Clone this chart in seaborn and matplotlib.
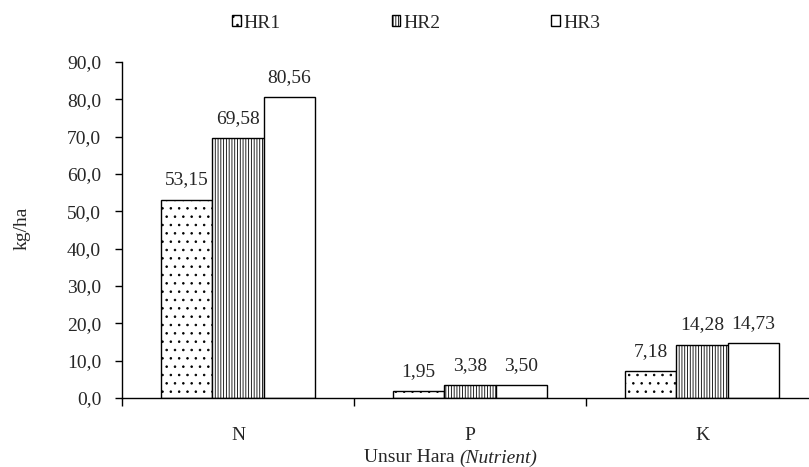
import pandas as pd
import numpy as np
import matplotlib.pyplot as plt
import seaborn as sns

# data
nutrients = ['N', 'P', 'K']
series = ['HR1', 'HR2', 'HR3']
hr1 = [53.15, 1.95, 7.18]
hr2 = [69.58, 3.38, 14.28]
hr3 = [80.56, 3.50, 14.73]
yticks = [0, 10, 20, 30, 40, 50, 60, 70, 80, 90]

df = pd.DataFrame({
    'Nutrient': nutrients * 3,
    'Series': [s for s in series for _ in nutrients],
    'Value': hr1 + hr2 + hr3,
})

sns.set_theme(style="white")
plt.rcParams['font.family'] = ['Liberation Serif', 'DejaVu Serif']
plt.rcParams['hatch.linewidth'] = 0.6
fs = 14

fig = plt.figure(figsize=(8.09, 4.67), dpi=100)
ax = fig.add_axes([122 / 809, 1 - 398 / 467, 696 / 809, 336 / 467])

sns.barplot(data=df, x='Nutrient', y='Value', hue='Series', order=nutrients,
            hue_order=series, palette=['white'] * 3, width=0.665,
            edgecolor='black', linewidth=1.0, ax=ax, saturation=1)

# HR1 dotted, HR2 vertical lines, HR3 plain
hatches = ['..', '||||||', '']
for cont, h in zip(ax.containers, hatches):
    for bar in cont:
        bar.set_hatch(h)
    ax.bar_label(cont, labels=[f'{v:.2f}'.replace('.', ',') for v in cont.datavalues],
                 padding=8, fontsize=fs)

ax.set_ylim(0, 90)
ax.set_xlim(-0.5, 2.5)
ax.set_yticks(yticks)
ax.set_yticklabels([f'{t:.1f}'.replace('.', ',') for t in yticks], fontsize=fs)
ax.tick_params(axis='y', left=True, length=5, width=1, pad=10, direction='out', color='black')
ax.set_xticks([0, 1, 2])
ax.set_xticklabels(nutrients, fontsize=fs)
ax.set_xticks([-0.5, 0.5, 1.5], minor=True)
ax.tick_params(axis='x', which='major', length=0, pad=21)
ax.tick_params(axis='x', which='minor', bottom=True, length=6, width=1, color='black')

for s in ['top', 'right']:
    ax.spines[s].set_visible(False)
for s in ['left', 'bottom']:
    ax.spines[s].set_color('black')
    ax.spines[s].set_linewidth(1)

ax.set_ylabel('')
ax.set_xlabel('')
fig.text(22 / 809, 1 - 228 / 467, 'kg/ha', rotation=90, ha='center', va='center', fontsize=fs)
fig.text(455 / 809, 1 - 458 / 467, 'Unsur Hara', ha='right', va='center', fontsize=fs)
fig.text(459 / 809, 1 - 458 / 467, '(Nutrient)', ha='left', va='center', fontsize=fs,
         style='italic')

handles, labels = ax.get_legend_handles_labels()
leg = ax.legend(handles, labels, loc='center', bbox_to_anchor=(416 / 809, 1 - 23 / 467),
                bbox_transform=fig.transFigure, ncol=3,
                frameon=False, fontsize=fs, handlelength=0.45, handleheight=0.45,
                handletextpad=0.15, columnspacing=5.7)
for hnd, h in zip(leg.legend_handles, ['..', '||||||', '']):
    hnd.set_hatch(h)
    hnd.set_edgecolor('black')
    hnd.set_facecolor('white')

fig.savefig('out.png', dpi=100)
